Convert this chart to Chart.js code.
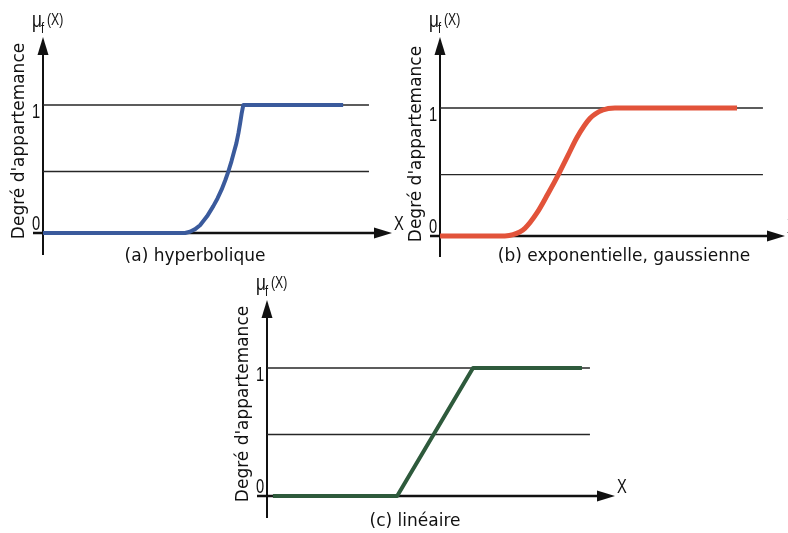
<!DOCTYPE html>
<html><head><meta charset="utf-8">
<script src="https://cdn.jsdelivr.net/npm/chart.js@4.4.1/dist/chart.umd.min.js"></script>
<style>
html,body{margin:0;padding:0;background:#fff;width:788px;height:533px;overflow:hidden}
.pane{position:absolute;left:0;top:0;width:788px;height:533px}
</style></head><body>
<div class="pane"><canvas id="ca"></canvas></div>
<div class="pane"><canvas id="cb"></canvas></div>
<div class="pane"><canvas id="cc"></canvas></div>
<script>
// ---------- data ----------
const captions = ['(a) hyperbolique', '(b) exponentielle, gaussienne', '(c) linéaire'];
const yAxisTitle = "Degré d'appartemance";
const xAxisLabel = 'X';
const muSymbol = 'μ', muSub = 'f', muArg = '(X)';
const tickValues = [0, 1];
const tickLabels = ['0', '1'];
const refLevels = [1, 0.48];

// (a) hyperbolique
const hypX = [0, 40.7, 42.1, 43.6, 45.0, 47.0, 48.8, 50.0, 51.2, 52.2, 53.1, 54.0, 54.7, 55.4, 56.0, 56.5, 56.9, 57.4, 86.0];
const hypY = [0, 0, 0.01, 0.03, 0.06, 0.13, 0.21, 0.27, 0.34, 0.41, 0.48, 0.56, 0.63, 0.70, 0.78, 0.86, 0.93, 1, 1];
const hypRefEnd = 93.4;

// (b) exponentielle, gaussienne
const expX = [0, 18.8, 21.2, 24.6, 28.1, 31.3, 34.5, 37.1, 39.7, 43.5, 47.2, 50.7, 86.1];
const expY = [0, 0, 0.01, 0.06, 0.18, 0.33, 0.49, 0.63, 0.77, 0.92, 0.985, 1, 1];
const expRefEnd = 93.6;

// (c) linéaire
const linX = [1.7, 37.4, 59.2, 90.5];
const linY = [0, 0, 1, 1];
const linRefEnd = 92.8;

// ---------- drawing ----------
const INK = '#111111';
function condText(ctx, text, x, y, font, sx, align) {
  ctx.save();
  ctx.translate(x, y);
  ctx.scale(sx, 1);
  ctx.font = font;
  ctx.textAlign = align;
  ctx.textBaseline = 'alphabetic';
  ctx.fillText(text, 0, 0);
  ctx.restore();
}
const sketchPlugin = {
  id: 'sketch',
  beforeDatasetsDraw(chart, args, o) {
    const {ctx, chartArea: a, scales: {y}} = chart;
    const y0 = y.getPixelForValue(0);
    ctx.save();
    ctx.strokeStyle = INK; ctx.fillStyle = INK;
    ctx.lineWidth = 2;
    ctx.beginPath(); ctx.moveTo(a.left, a.bottom); ctx.lineTo(a.left, a.top + 12); ctx.stroke();
    ctx.beginPath(); ctx.moveTo(a.left, a.top); ctx.lineTo(a.left - 5.5, a.top + 18); ctx.lineTo(a.left + 5.5, a.top + 18); ctx.closePath(); ctx.fill();
    ctx.lineWidth = 2.5;
    ctx.beginPath(); ctx.moveTo(a.left - 10, y0); ctx.lineTo(a.right - 12, y0); ctx.stroke();
    ctx.beginPath(); ctx.moveTo(a.right, y0); ctx.lineTo(a.right - 18, y0 - 5.5); ctx.lineTo(a.right - 18, y0 + 5.5); ctx.closePath(); ctx.fill();
    ctx.restore();
  },
  afterDraw(chart, args, o) {
    const {ctx, chartArea: a, scales: {y}} = chart;
    const y0 = y.getPixelForValue(0);
    const NF = '"Liberation Sans", Arial, sans-serif';
    ctx.save();
    ctx.fillStyle = INK;
    // tick labels
    tickValues.forEach((v, i) => {
      condText(ctx, tickLabels[i], a.left - 7, y.getPixelForValue(v) + o.tickOffsets[i], '21px ' + NF, 0.7, 'center');
    });
    // X label
    condText(ctx, xAxisLabel, a.right + 2, y0 - 3, '21px ' + NF, 0.7, 'left');
    // mu_f(X)
    condText(ctx, muSymbol, a.left - 11, a.top - 10, '22px ' + NF, 0.78, 'left');
    condText(ctx, muSub, a.left - 2, a.top - 4, '14px ' + NF, 0.8, 'left');
    condText(ctx, muArg, a.left + 4, a.top - 12, '17px ' + NF, 0.72, 'left');
    // y title
    ctx.font = '17px "DejaVu Sans", sans-serif';
    ctx.textAlign = 'center'; ctx.textBaseline = 'middle';
    ctx.translate(a.left - 23, y0 - 92);
    ctx.rotate(-Math.PI / 2);
    ctx.fillText(yAxisTitle, 0, 0);
    ctx.setTransform(1, 0, 0, 1, 0, 0);
    // caption
    ctx.fillText(o.caption, o.capX, o.capY);
    ctx.restore();
  }
};

function pts(xs, ys) { return xs.map((x, i) => ({x, y: ys[i]})); }
function refSet(level, end) {
  return {data: pts([0, end], [level, level]), borderColor: '#262626', borderWidth: 1.4,
    pointRadius: 0, order: 2, clip: false, tension: 0};
}

function makeChart(id, xs, ys, refEnd, color, width, tension, mono, pad, yMin, yMax, caption, capX, capY) {
  const datasets = [
    {data: pts(xs, ys), borderColor: color, borderWidth: width, pointRadius: 0, order: 0,
     clip: false, tension: tension, cubicInterpolationMode: mono ? 'monotone' : 'default',
     borderCapStyle: 'butt', borderJoinStyle: 'round'},
    ...refLevels.map(l => refSet(l, refEnd))
  ];
  return new Chart(document.getElementById(id), {
    type: 'line',
    data: {datasets},
    options: {
      responsive: true, maintainAspectRatio: false, animation: false, devicePixelRatio: 1,
      events: [],
      layout: {padding: pad},
      scales: {
        x: {type: 'linear', min: 0, max: 100, display: false},
        y: {type: 'linear', min: yMin, max: yMax, display: false}
      },
      plugins: {
        legend: {display: false}, tooltip: {enabled: false},
        sketch: {caption, capX, capY, tickOffsets: [-3, 13]}
      }
    },
    plugins: [sketchPlugin]
  });
}

makeChart('ca', hypX, hypY, hypRefEnd, '#3a5a9c', 4, 0, false,
  {left: 43, right: 396, top: 37, bottom: 278}, -0.172, 1.531, captions[0], 195, 257);
makeChart('cb', expX, expY, expRefEnd, '#e2533a', 5, 0.4, true,
  {left: 440, right: 3, top: 37, bottom: 276}, -0.164, 1.555, captions[1], 624, 257);
makeChart('cc', linX, linY, linRefEnd, '#2e5a3c', 4, 0, false,
  {left: 267, right: 173, top: 300, bottom: 15}, -0.172, 1.531, captions[2], 415, 522);
</script>
</body></html>
